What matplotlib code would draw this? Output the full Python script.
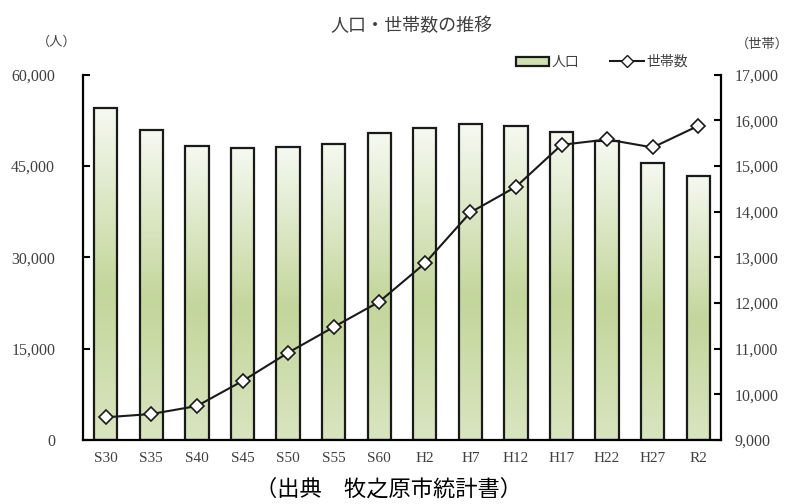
import numpy as np
import matplotlib.pyplot as plt
from matplotlib.colors import LinearSegmentedColormap
from matplotlib.patches import Patch
from matplotlib.lines import Line2D

plt.rcParams['font.family'] = ['Noto Sans CJK JP', 'DejaVu Sans']

# 年次・人口・世帯数
years = ['S30', 'S35', 'S40', 'S45', 'S50', 'S55', 'S60',
         'H2', 'H7', 'H12', 'H17', 'H22', 'H27', 'R2']
population = [54560, 50950, 48320, 47900, 48160, 48650, 50360,
              51230, 51840, 51610, 50520, 49150, 45430, 43400]
households = [9497, 9569, 9744, 10291, 10910, 11473, 12026,
              12866, 13982, 14543, 15462, 15580, 15405, 15878]

pop_ticks = [0, 15000, 30000, 45000, 60000]
hh_ticks = list(range(9000, 17001, 1000))

txt_col = '#404040'
serif = ['Liberation Serif', 'DejaVu Serif']

# 棒のグラデーション (上: 白 → 中: 緑 → 下: 薄緑)
grad = LinearSegmentedColormap.from_list(
    'bar_grad', [(0.0, '#d9e5c0'), (0.45, '#c3d69b'), (1.0, '#f6f9f1')])

fig = plt.figure(figsize=(7.92, 5.04), dpi=100)
ax = fig.add_axes([0.1048, 0.127, 0.8056, 0.725])

x = np.arange(len(years))
w = 0.51
g = np.linspace(0, 1, 256).reshape(-1, 1)
for xi, v in zip(x, population):
    ax.imshow(g, cmap=grad, origin='lower', aspect='auto',
              extent=(xi - w / 2, xi + w / 2, 0, v), zorder=1)
ax.bar(x, population, width=w, facecolor='none', edgecolor='#1a1a1a',
       linewidth=1.6, zorder=2)

ax.set_xlim(-0.5, 13.5)
ax.set_ylim(0, 60000)
ax.set_yticks(pop_ticks)
ax.set_yticklabels([f'{t:,}' for t in pop_ticks], family=serif,
                   fontsize=11.5, color=txt_col)
ax.set_xticks(x)
ax.set_xticklabels(years, family=serif, fontsize=11, color=txt_col)
ax.tick_params(axis='x', length=0, pad=9)
ax.tick_params(axis='y', direction='in', length=5, width=1.5, pad=20)
for s in ['top', 'right']:
    ax.spines[s].set_visible(False)
for s in ['left', 'bottom']:
    ax.spines[s].set_linewidth(1.6)

# 世帯数 (右軸)
ax2 = ax.twinx()
ax2.plot(x, households, color='#1a1a1a', linewidth=1.5, marker='D',
         markersize=7, markerfacecolor='white', markeredgecolor='#1a1a1a',
         markeredgewidth=1.2, zorder=3)
ax2.set_ylim(9000, 17000)
ax2.set_yticks(hh_ticks)
ax2.set_yticklabels([f'{t:,}' for t in hh_ticks], family=serif,
                    fontsize=11.5, color=txt_col)
ax2.tick_params(axis='y', direction='in', length=5, width=1.5, pad=10)
for s in ['top', 'left', 'bottom']:
    ax2.spines[s].set_visible(False)
ax2.spines['right'].set_linewidth(1.6)

fig.text(0.52, 0.948, '人口・世帯数の推移', ha='center', va='center',
         fontsize=13, color=txt_col)
fig.text(0.071, 0.917, '（人）', ha='center', va='center', fontsize=9.5,
         color=txt_col)
fig.text(0.962, 0.912, '（世帯）', ha='center', va='center', fontsize=9.5,
         color=txt_col)

handles = [Patch(facecolor='#d0e0b0', edgecolor='#1a1a1a', linewidth=1.6),
           Line2D([], [], color='#1a1a1a', linewidth=1.5, marker='D',
                  markersize=6, markerfacecolor='white',
                  markeredgecolor='#1a1a1a')]
leg = fig.legend(handles, ['人口', '世帯数'], ncol=2, frameon=False,
                 loc='center', bbox_to_anchor=(0.76, 0.877), fontsize=10,
                 handlelength=2.4, handleheight=0.6, columnspacing=2.2,
                 handletextpad=0.2)
for t in leg.get_texts():
    t.set_color(txt_col)

fig.text(0.49, 0.03, '（出典　牧之原市統計書）', ha='center', va='center',
         fontsize=16, color='black')

fig.savefig('out.png', dpi=100)
